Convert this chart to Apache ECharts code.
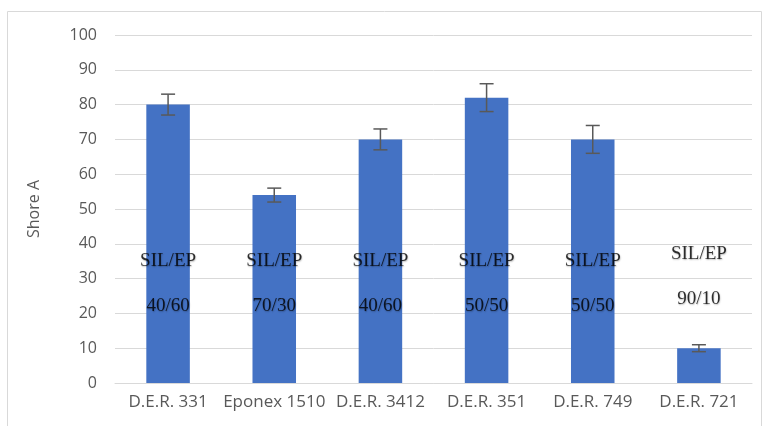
<!DOCTYPE html>
<html><head><meta charset="utf-8">
<script src="https://cdn.jsdelivr.net/npm/echarts@6/dist/echarts.min.js"></script>
<style>html,body{margin:0;padding:0;background:#fff}#c{width:767px;height:426px}</style>
</head><body><div id="c"></div>
<script>
const categories = ['D.E.R. 331','Eponex 1510','D.E.R. 3412','D.E.R. 351','D.E.R. 749','D.E.R. 721'];
const shoreA = [80, 54, 70, 82, 70, 10];
const errLow = [77, 52, 67, 78, 66, 9];
const errHigh = [83, 56, 73, 86, 74, 11];
const ratioTitle = ['SIL/EP','SIL/EP','SIL/EP','SIL/EP','SIL/EP','SIL/EP'];
const ratioTitleY = [35, 35, 35, 35, 35, 37];
const ratioText = ['40/60','70/30','40/60','50/50','50/50','90/10'];
const ratioTextY = [22, 22, 22, 22, 22, 24];
const yTicks = [0,10,20,30,40,50,60,70,80,90,100];

const chart = echarts.init(document.getElementById('c'));
const serifLabel = {show:true, position:'inside', fontFamily:'Liberation Serif', fontSize:19, color:'#000',
  textShadowColor:'rgba(0,0,0,0.35)', textShadowBlur:1.5, textShadowOffsetX:0.5, textShadowOffsetY:0.5};
chart.setOption({
  animation:false,
  graphic:[{type:'rect', shape:{x:7.5,y:11.5,width:754,height:430}, style:{fill:'none',stroke:'#d9d9d9',lineWidth:1}, silent:true}],
  grid:{left:115, right:15, top:35, bottom:43},
  xAxis:{type:'category', data:categories, axisTick:{show:false},
    axisLine:{lineStyle:{color:'#d9d9d9'}},
    axisLabel:{interval:0, color:'#595959', fontSize:17, fontFamily:'Open Sans', margin:11}},
  yAxis:{type:'value', min:yTicks[0], max:yTicks[yTicks.length-1], interval:10,
    name:'Shore A', nameLocation:'middle', nameGap:73, nameRotate:90,
    nameTextStyle:{color:'#595959', fontSize:16, fontFamily:'Open Sans'},
    axisLabel:{color:'#595959', fontSize:16, fontFamily:'Open Sans', margin:18},
    splitLine:{lineStyle:{color:'#d9d9d9', width:1}}, axisLine:{show:false}, axisTick:{show:false}},
  series:[
    {type:'bar', data:shoreA, barWidth:'41%', itemStyle:{color:'#4472C4'}},
    {type:'custom', data:categories.map((c,i)=>[i, errLow[i], errHigh[i]]), z:5,
      renderItem:function(params, api){
        const lo = api.coord([api.value(0), api.value(1)]);
        const hi = api.coord([api.value(0), api.value(2)]);
        const hw = 7;
        const st = {stroke:'#595959', lineWidth:1.5};
        return {type:'group', children:[
          {type:'line', shape:{x1:lo[0],y1:lo[1],x2:hi[0],y2:hi[1]}, style:st},
          {type:'line', shape:{x1:lo[0]-hw,y1:lo[1],x2:lo[0]+hw,y2:lo[1]}, style:st},
          {type:'line', shape:{x1:hi[0]-hw,y1:hi[1],x2:hi[0]+hw,y2:hi[1]}, style:st}
        ]};
      }},
    {type:'scatter', symbolSize:0, z:10, data:categories.map((c,i)=>({value:[i, ratioTitleY[i]], label:Object.assign({formatter:ratioTitle[i]}, serifLabel)}))},
    {type:'scatter', symbolSize:0, z:10, data:categories.map((c,i)=>({value:[i, ratioTextY[i]], label:Object.assign({formatter:ratioText[i]}, serifLabel)}))}
  ]
});
</script></body></html>
